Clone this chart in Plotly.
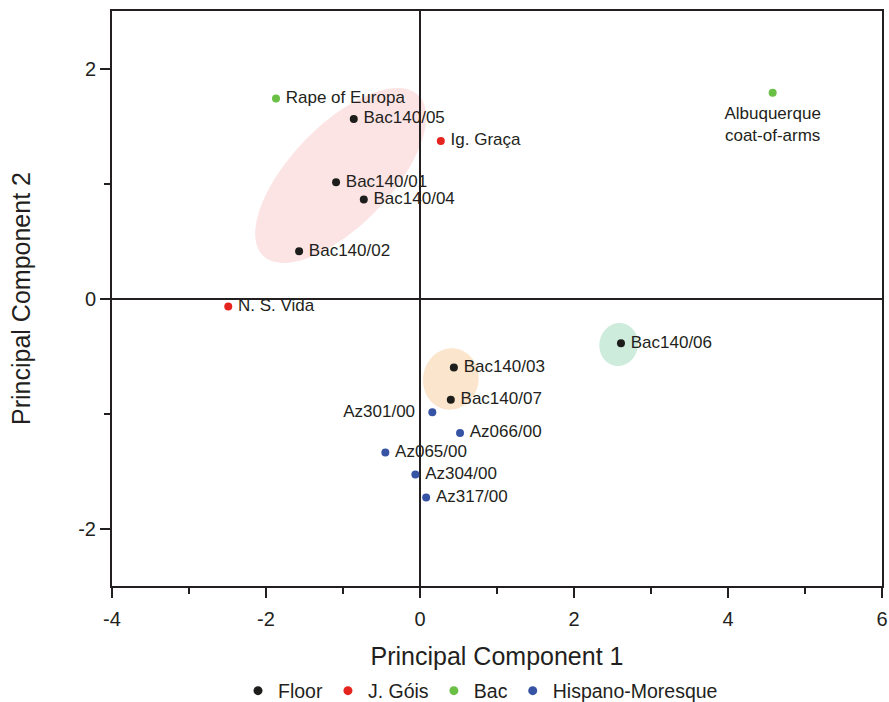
import numpy as np
import plotly.graph_objects as go

# --- sample scores on the first two principal components ---
floor_names = ["Bac140/05", "Bac140/01", "Bac140/04", "Bac140/02", "Bac140/06", "Bac140/03", "Bac140/07"]
floor_pc1 = [-0.86, -1.09, -0.73, -1.57, 2.61, 0.44, 0.40]
floor_pc2 = [1.56, 1.01, 0.86, 0.41, -0.39, -0.60, -0.88]

gois_names = ["Ig. Graça", "N. S. Vida"]
gois_pc1 = [0.27, -2.49]
gois_pc2 = [1.37, -0.07]

bac_names = ["Rape of Europa", "Albuquerque<br>coat-of-arms"]
bac_pc1 = [-1.87, 4.58]
bac_pc2 = [1.74, 1.79]

hm_names = ["Az301/00", "Az066/00", "Az065/00", "Az304/00", "Az317/00"]
hm_pc1 = [0.16, 0.52, -0.45, -0.06, 0.08]
hm_pc2 = [-0.99, -1.17, -1.34, -1.53, -1.73]

# cluster ellipses: centre (pc1, pc2), semi-axes (pc1 units), tilt in degrees
ell_cx = [-1.03, 0.40, 2.58]
ell_cy = [1.07, -0.70, -0.40]
ell_a = [1.45, 0.40, 0.28]
ell_b = [0.65, 0.36, 0.25]
ell_tilt = [46, 80, 80]
ell_fill = ["#fce4e5", "#fbe5cc", "#cdecdc"]

x_ticks = [-4, -2, 0, 2, 4, 6]
x_tick_text = ["-4", "-2", "0", "2", "4", "6"]
y_ticks = [-2, 0, 2]
y_tick_text = ["-2", "0", "2"]

X_RANGE = [-4, 6]
Y_RANGE = [-2.5, 2.5]
W, H = 889, 702
M = dict(l=112, r=7, t=11, b=116)
plot_w = W - M["l"] - M["r"]
plot_h = H - M["t"] - M["b"]
# ratio converting pc1-sized lengths into pc2 units on screen
px_x = plot_w / (X_RANGE[1] - X_RANGE[0])
px_y = plot_h / (Y_RANGE[1] - Y_RANGE[0])
ratio = px_x / px_y

INK = "#231f20"
FONT = "Liberation Sans, Arial, Helvetica, sans-serif"

groups = [
    ("Floor", "#1d1d1b", floor_names, floor_pc1, floor_pc2),
    ("J. Góis", "#e5231f", gois_names, gois_pc1, gois_pc2),
    ("Bac", "#6abf45", bac_names, bac_pc1, bac_pc2),
    ("Hispano-Moresque", "#3653a4", hm_names, hm_pc1, hm_pc2),
]


def text_pos(name):
    if name.startswith("Albuquerque"):
        return "bottom center"
    if name == "Az301/00":
        return "middle left"
    return "middle right"


def text_pad(name):
    # size of the invisible marker that spaces a label away from its point
    if name.startswith("Albuquerque"):
        return 20
    if name == "Az301/00":
        return 26
    return 14


fig = go.Figure()

for label, color, names, xs, ys in groups:
    # visible points
    fig.add_trace(go.Scatter(
        x=xs, y=ys, mode="markers", text=names,
        marker=dict(size=8, color=color, line=dict(width=0)),
        showlegend=False, hoverinfo="x+y+text",
    ))
    # point labels, offset by a transparent marker
    fig.add_trace(go.Scatter(
        x=xs, y=ys, mode="markers+text", text=names,
        textposition=[text_pos(n) for n in names],
        textfont=dict(family=FONT, size=17, color=INK),
        marker=dict(size=[text_pad(n) for n in names], opacity=0, line=dict(width=0)),
        showlegend=False, hoverinfo="skip",
    ))
    # legend entry
    fig.add_trace(go.Scatter(
        x=[None], y=[None], mode="markers", name=label,
        marker=dict(size=9, color=color, line=dict(width=0)), showlegend=True,
    ))

shapes = []
phi = np.linspace(0, 2 * np.pi, 120)
for cx, cy, a, b, t, fill in zip(ell_cx, ell_cy, ell_a, ell_b, ell_tilt, ell_fill):
    th = np.deg2rad(t)
    u, v = a * np.cos(phi), b * np.sin(phi)
    ex = cx + u * np.cos(th) - v * np.sin(th)
    ey = cy + (u * np.sin(th) + v * np.cos(th)) * ratio
    path = "M " + " L ".join(f"{px:.4f},{py:.4f}" for px, py in zip(ex, ey)) + " Z"
    shapes.append(dict(type="path", path=path, xref="x", yref="y",
                       fillcolor=fill, line=dict(width=0), layer="below"))

axis_common = dict(
    showgrid=False, zeroline=True, zerolinecolor=INK, zerolinewidth=1.5,
    showline=True, linecolor=INK, linewidth=2, mirror=True,
    ticks="outside", ticklen=10, tickwidth=1.5, tickcolor=INK,
    tickfont=dict(family=FONT, size=20, color=INK),
    minor=dict(ticks="outside", ticklen=6, tickwidth=1.5, tickcolor=INK, dtick=1, showgrid=False),
    automargin=False,
)

fig.update_layout(
    width=W, height=H, margin=M,
    paper_bgcolor="white", plot_bgcolor="white",
    font=dict(family=FONT, color=INK),
    shapes=shapes,
    xaxis=dict(range=X_RANGE, tickvals=x_ticks, ticktext=x_tick_text, ticklabelstandoff=4,
               title=dict(text="Principal Component 1", font=dict(family=FONT, size=25, color=INK), standoff=18),
               **axis_common),
    yaxis=dict(range=Y_RANGE, tickvals=y_ticks, ticktext=y_tick_text,
               title=dict(text="Principal Component 2", font=dict(family=FONT, size=25, color=INK), standoff=40),
               **axis_common),
    legend=dict(orientation="h", xref="container", x=238 / W, xanchor="left",
                yref="container", y=1 - 691 / H, yanchor="middle",
                font=dict(family=FONT, size=19.5, color=INK), itemwidth=30),
)

fig.write_html("out.html")
